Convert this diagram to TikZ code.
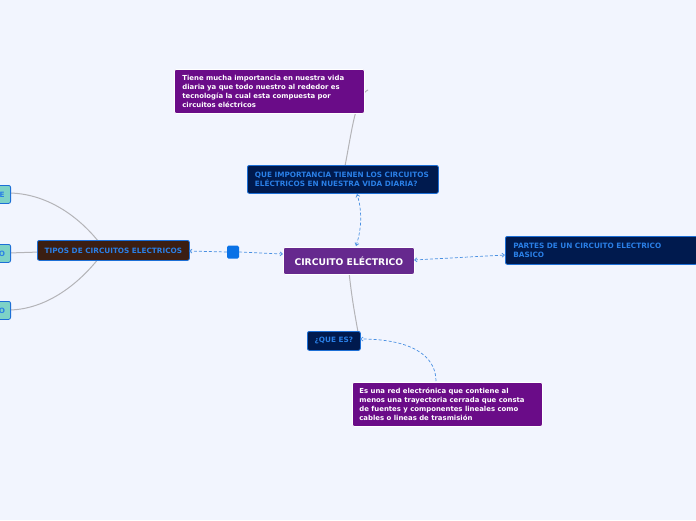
\documentclass[tikz,border=0pt]{standalone}
\usepackage{fontspec}
\setmainfont{DejaVu Sans}
\usetikzlibrary{arrows.meta}
\definecolor{bg}{HTML}{F2F5FE}
\definecolor{purp}{HTML}{6A0C88}
\definecolor{cpurp}{HTML}{66298E}
\definecolor{navy}{HTML}{001A4E}
\definecolor{bblue}{HTML}{1D6FD6}
\definecolor{tblue}{HTML}{2A7FE6}
\definecolor{brown}{HTML}{3B1E12}
\definecolor{teal}{HTML}{7DD2C7}
\definecolor{sq}{HTML}{0A72E6}
\definecolor{gline}{HTML}{B4B4B8}
\definecolor{dline}{HTML}{4A90E2}
\tikzset{
  base/.style={anchor=north west, rounded corners=2pt, inner sep=0pt, font=\fontsize{6.9}{9}\selectfont\bfseries, align=left},
  capf/.style={font=\fontsize{7.3}{9}\selectfont\bfseries},
  pbox/.style={base, fill=purp, draw=white, line width=0.8pt, text=white},
  nbox/.style={base, capf, fill=navy, draw=bblue, line width=0.8pt, text=tblue},
  bbox/.style={base, capf, fill=brown, draw=bblue, line width=0.8pt, text=tblue},
  tbox/.style={base, capf, fill=teal, draw=bblue, line width=0.8pt, text=tblue},
  gcon/.style={draw=gline, line width=1pt},
  dcon/.style={draw=dline, line width=0.7pt, dash pattern=on 3pt off 2pt},
  tip/.style={-{Straight Barb[length=2.5pt,width=4pt]}},
  tips/.style={{Straight Barb[length=2.5pt,width=4pt]}-{Straight Barb[length=2.5pt,width=4pt]}},
}
\begin{document}
\begin{tikzpicture}[x=1pt,y=-1pt]
\fill[bg] (0,0) rectangle (696,520);
\useasboundingbox (0,0) rectangle (696,520);

% gray connectors (behind boxes)
\coordinate (tk) at (368,90);
\coordinate (tc) at (105,250);
\draw[gcon] (345,166) .. controls (352,130) and (356,95) .. (tk);
\draw[gcon] (349,272) .. controls (352,300) and (355,315) .. (358,332);
\draw[gcon] (tc) .. controls (80,215) and (45,193) .. (8,193);
\draw[gcon] (tc) -- (8,253);
\draw[gcon] (tc) .. controls (80,285) and (45,310) .. (8,310);

% boxes
\node[pbox, minimum width=190pt, minimum height=44pt] (imp) at (174,69)
  {\hspace*{6pt}\parbox{180pt}{Tiene mucha importancia en nuestra vida\\ diaria ya que todo nuestro al rededor es\\ tecnología la cual esta compuesta por\\ circuitos eléctricos}};
\node[nbox, minimum width=191pt, minimum height=28pt] (que) at (247,165)
  {\hspace*{6pt}\parbox{182pt}{QUE IMPORTANCIA TIENEN LOS CIRCUITOS\\ ELÉCTRICOS EN NUESTRA VIDA DIARIA?}};
\node[base, fill=cpurp, draw=white, line width=0.8pt, text=white, minimum width=131pt, minimum height=27pt, align=center, font=\fontsize{9.2}{9}\selectfont\bfseries] (cen) at (283,247) {CIRCUITO ELÉCTRICO};
\node[bbox, minimum width=152pt, minimum height=20pt, align=center] (tip) at (37,240) {TIPOS DE CIRCUITOS ELECTRICOS};
\node[nbox, minimum width=192pt, minimum height=28pt] (par) at (505,236)
  {\hspace*{6pt}\parbox{182pt}{PARTES DE UN CIRCUITO ELECTRICO\\ BASICO}};
\node[nbox, minimum width=53pt, minimum height=19pt, align=center] (qes) at (307,331) {¿QUE ES?};
\node[pbox, minimum width=190pt, minimum height=44pt] (def) at (352,382)
  {\hspace*{6pt}\parbox{182pt}{Es una red electrónica que contiene al\\ menos una trayectoria cerrada que consta\\ de fuentes y componentes lineales como\\ cables o lineas de trasmisión}};
\node[tbox, minimum width=24pt, minimum height=18pt, anchor=north east] (t1) at (11,185) {\hspace*{12pt}E\hspace*{5pt}};
\node[tbox, minimum width=24pt, minimum height=18pt, anchor=north east] (t2) at (11,244) {\hspace*{12pt}O\hspace*{5pt}};
\node[tbox, minimum width=24pt, minimum height=18pt, anchor=north east] (t3) at (11,301) {\hspace*{12pt}O\hspace*{5pt}};
\node[fill=sq, rounded corners=1.5pt, minimum width=12pt, minimum height=13pt, inner sep=0pt] (sqr) at (233,252) {};

% dashed connectors
\draw[dcon, tips] (356,246) .. controls (362,228) and (362,210) .. (357,194);
\draw[dcon, tip] (sqr.east) -- (283,254);
\draw[dcon, tip] (sqr.west) -- (189,251);
\draw[dcon, tips] (414,260) -- (505,255);
\draw[dcon, tip] (436,381) .. controls (436,355) and (410,339) .. (360,339);
\end{tikzpicture}
\end{document}
